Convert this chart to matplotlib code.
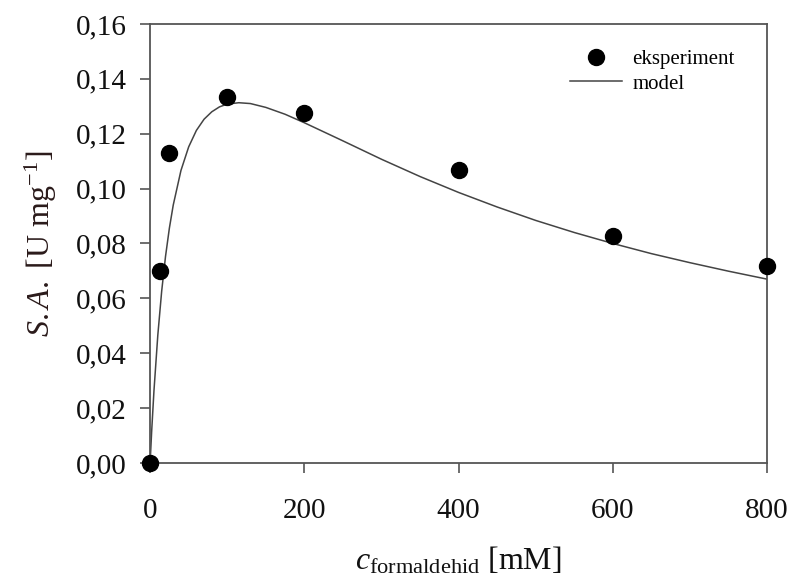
import matplotlib
matplotlib.use("Agg")
import matplotlib.pyplot as plt

plt.rcParams['font.family'] = ['Liberation Serif', 'DejaVu Serif']
plt.rcParams['mathtext.fontset'] = 'custom'
plt.rcParams['mathtext.rm'] = 'Liberation Serif'
plt.rcParams['mathtext.it'] = 'Liberation Serif:style=italic'

# experimental data
exp_x = [0, 12.5, 25, 100, 200, 400, 600, 800]
exp_y = [0.000, 0.070, 0.113, 0.1335, 0.1275, 0.1067, 0.0828, 0.0717]

# model curve
model_x = [0, 2, 5, 10, 15, 20, 25, 30, 40, 50, 60, 70, 80, 90, 100, 115, 130,
           150, 175, 200, 250, 300, 350, 400, 450, 500, 550, 600, 650, 700, 750, 800]
model_y = [0.0, 0.0114, 0.0263, 0.0466, 0.0626, 0.0753, 0.0856, 0.0940, 0.1066,
           0.1152, 0.1212, 0.1253, 0.1280, 0.1298, 0.1308, 0.1313, 0.1310, 0.1296,
           0.1271, 0.1240, 0.1174, 0.1107, 0.1044, 0.0986, 0.0933, 0.0884, 0.0840,
           0.0800, 0.0763, 0.0730, 0.0699, 0.0670]

x_ticks = [0, 200, 400, 600, 800]
y_ticks = [0.00, 0.02, 0.04, 0.06, 0.08, 0.10, 0.12, 0.14, 0.16]
y_tick_labels = ['0,00', '0,02', '0,04', '0,06', '0,08', '0,10', '0,12', '0,14', '0,16']

fig = plt.figure(figsize=(7.9, 5.82), dpi=100)
ax = fig.add_axes([0.190, 0.2045, 0.781, 0.7543])

ax.plot(model_x, model_y, color='#444444', lw=1.1, label='model', zorder=2)
ax.plot(exp_x, exp_y, 'o', color='black', markersize=11.5, label='eksperiment',
        clip_on=False, zorder=3)

ax.set_xlim(0, 800)
ax.set_ylim(0, 0.16)
ax.set_xticks(x_ticks)
ax.set_xticklabels([str(v) for v in x_ticks])
ax.set_yticks(y_ticks)
ax.set_yticklabels(y_tick_labels)

for s in ax.spines.values():
    s.set_color('#555555')
    s.set_linewidth(1.3)
ax.tick_params(direction='out', length=7, width=1.2, color='#555555',
               labelsize=21, labelcolor='#111111')
ax.tick_params(axis='x', pad=18)
ax.tick_params(axis='y', pad=10)

ax.set_ylabel(r'$S.A.$ [U mg$^{-1}$]', fontsize=23, color='#2a1a1a', labelpad=12)
ax.set_xlabel(r'$c_{\mathrm{formaldehid}}$ [mM]', fontsize=23, color='#111111', labelpad=15)

handles, labels = ax.get_legend_handles_labels()
leg = ax.legend(handles[::-1], labels[::-1], loc='upper right', frameon=False,
                fontsize=15, handlelength=2.5, handletextpad=0.5, labelspacing=0.25,
                markerscale=1.0, bbox_to_anchor=(0.978, 0.985))

fig.savefig('out.png', dpi=100)
